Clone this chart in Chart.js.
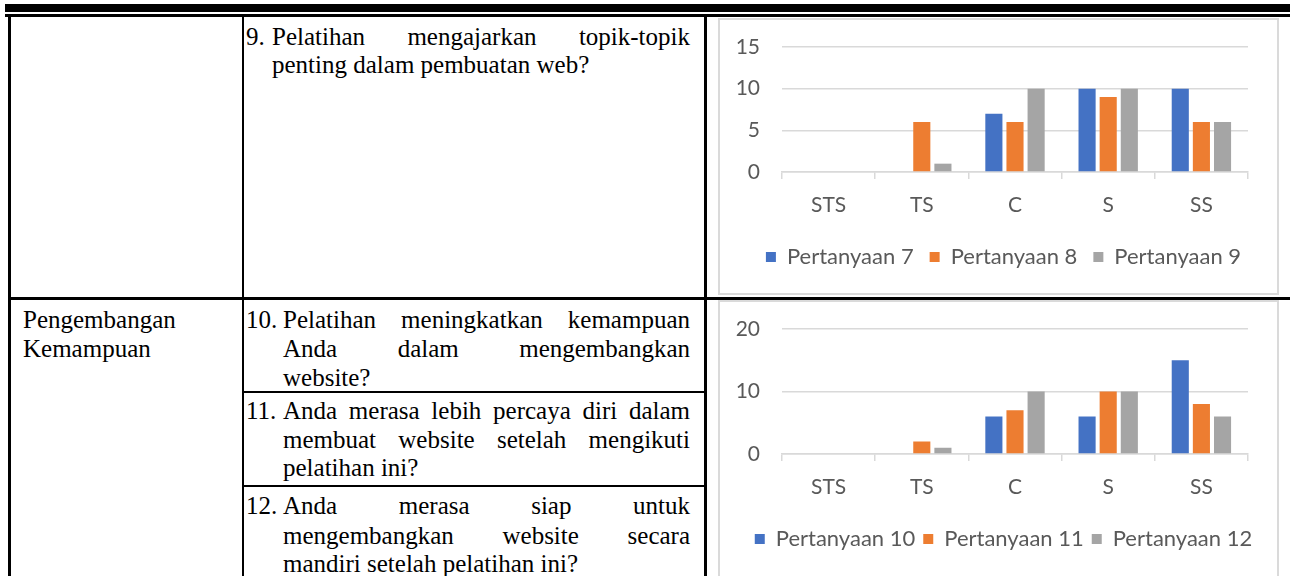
<!DOCTYPE html>
<html><head><meta charset="utf-8">
<script src="https://cdn.jsdelivr.net/npm/chart.js@4.4.1/dist/chart.umd.min.js"></script>
<style>
html,body{margin:0;padding:0;background:#fff;width:1290px;height:576px;overflow:hidden;position:relative;}
.ln{position:absolute;background:#000;}
.tx{position:absolute;font-family:"Liberation Serif","Times New Roman",serif;font-size:25px;line-height:29px;color:#000;white-space:nowrap;}
.j{text-align:justify;text-align-last:justify;}
.box{position:absolute;background:#fff;border:2px solid #dadada;box-sizing:border-box;}
canvas{position:absolute;}
</style>
</head><body>
<div class="ln" style="left:5px;top:4px;width:1285px;height:8px"></div>
<div class="ln" style="left:5px;top:14px;width:1285px;height:3px"></div>
<div class="ln" style="left:8px;top:14px;width:2.5px;height:562px"></div>
<div class="ln" style="left:241.5px;top:14px;width:2.5px;height:562px"></div>
<div class="ln" style="left:704px;top:14px;width:2.5px;height:562px"></div>
<div class="ln" style="left:8px;top:297px;width:1282px;height:2.5px"></div>
<div class="ln" style="left:242px;top:391px;width:464px;height:2px"></div>
<div class="ln" style="left:242px;top:485px;width:464px;height:2px"></div>

<div class="tx" style="left:246px;top:22px">9.</div>
<div class="tx j" style="left:272px;top:22px;width:418px">Pelatihan mengajarkan topik-topik</div>
<div class="tx" style="left:272px;top:50px">penting dalam pembuatan web?</div>

<div class="tx" style="left:23px;top:305px">Pengembangan</div>
<div class="tx" style="left:23px;top:334px">Kemampuan</div>

<div class="tx" style="left:246px;top:305px">10.</div>
<div class="tx j" style="left:283px;top:305px;width:407px">Pelatihan meningkatkan kemampuan</div>
<div class="tx j" style="left:283px;top:334px;width:407px">Anda dalam mengembangkan</div>
<div class="tx" style="left:283px;top:363px">website?</div>

<div class="tx" style="left:246px;top:396px">11.</div>
<div class="tx j" style="left:283px;top:396px;width:407px">Anda merasa lebih percaya diri dalam</div>
<div class="tx j" style="left:283px;top:425px;width:407px">membuat website setelah mengikuti</div>
<div class="tx" style="left:283px;top:453px">pelatihan ini?</div>

<div class="tx" style="left:246px;top:491px">12.</div>
<div class="tx j" style="left:283px;top:491px;width:407px">Anda merasa siap untuk</div>
<div class="tx j" style="left:283px;top:521px;width:407px">mengembangkan website secara</div>
<div class="tx" style="left:283px;top:549px">mandiri setelah pelatihan ini?</div>

<div class="box" style="left:718px;top:18px;width:561px;height:277px"></div>
<div class="box" style="left:718px;top:300px;width:561px;height:282px"></div>
<canvas id="c1" width="561" height="277" style="left:718px;top:18px"></canvas>
<canvas id="c2" width="561" height="277" style="left:718px;top:300px"></canvas>

<script>
const categories = ['STS', 'TS', 'C', 'S', 'SS'];
const pertanyaan7 = [0, 0, 7, 10, 10];
const pertanyaan8 = [0, 6, 6, 9, 6];
const pertanyaan9 = [0, 1, 10, 10, 6];
const pertanyaan10 = [0, 0, 6, 6, 15];
const pertanyaan11 = [0, 2, 7, 10, 8];
const pertanyaan12 = [0, 1, 10, 10, 6];
const seriesNames1 = ['Pertanyaan 7', 'Pertanyaan 8', 'Pertanyaan 9'];
const seriesNames2 = ['Pertanyaan 10', 'Pertanyaan 11', 'Pertanyaan 12'];
const yMax1 = 15, yStep1 = 5;
const yMax2 = 20, yStep2 = 10;

const COLORS = ['#4472C4', '#ED7D31', '#A5A5A5'];
const TXT = '#595959';
const GRID = '#D9D9D9';
const FONT = 'Lato, "Open Sans", sans-serif';

const legendShift = {
  id: 'legendShift',
  afterLayout(chart) {
    if (chart.legend) { chart.legend.left += 5; chart.legend.right += 5; }
  }
};

function makeChart(id, names, series, yMax, yStep, legendPad) {
  const legendFont = 22;
  const legendTop = 239 - legendPad - legendFont / 2;
  const xHeight = legendTop - 154;
  return new Chart(document.getElementById(id), {
    type: 'bar',
    plugins: [legendShift],
    data: {
      labels: categories,
      datasets: series.map((d, i) => ({
        label: names[i], data: d, backgroundColor: COLORS[i], borderWidth: 0,
        barPercentage: 0.81, categoryPercentage: 0.68
      }))
    },
    options: {
      responsive: false, animation: false, devicePixelRatio: 1,
      layout: { padding: { left: 0, right: 0, top: 29, bottom: 17 } },
      plugins: {
        tooltip: { enabled: false },
        legend: {
          position: 'bottom',
          labels: { boxWidth: 10, boxHeight: 10, padding: legendPad, color: TXT, font: { family: FONT, size: legendFont } }
        }
      },
      scales: {
        x: {
          offset: true,
          grid: { display: true, drawOnChartArea: false, drawTicks: true, tickLength: 7, color: GRID, lineWidth: 1.5, offset: true },
          border: { display: true, color: GRID, width: 1.5 },
          ticks: { color: TXT, font: { family: FONT, size: 21 }, padding: 14, maxRotation: 0 },
          afterFit: s => { s.height = xHeight; }
        },
        y: {
          min: 0, max: yMax,
          ticks: { stepSize: yStep, color: TXT, font: { family: FONT, size: 21 }, padding: 22 },
          grid: { color: GRID, lineWidth: 1.5, drawTicks: false },
          border: { display: false },
          afterFit: s => { s.width = 64; s.paddingTop = 12; s.paddingBottom = 12; }
        },
        yRight: {
          position: 'right', display: true,
          grid: { display: false, drawTicks: false },
          border: { display: false },
          ticks: { display: false },
          afterFit: s => { s.width = 31; }
        }
      }
    }
  });
}
makeChart('c1', seriesNames1, [pertanyaan7, pertanyaan8, pertanyaan9], yMax1, yStep1, 16);
makeChart('c2', seriesNames2, [pertanyaan10, pertanyaan11, pertanyaan12], yMax2, yStep2, 8);
</script>
</body></html>
